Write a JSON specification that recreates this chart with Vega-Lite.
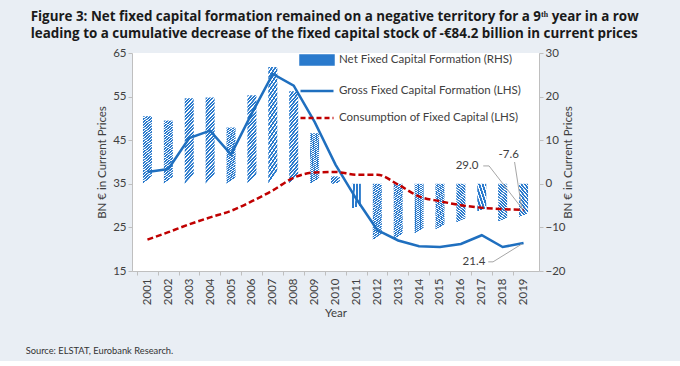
{
  "$schema": "https://vega.github.io/schema/vega-lite/v6.json",
  "background": "#e9eef4",
  "padding": {"left": 25, "top": 9, "right": 44, "bottom": 4},
  "title": {
    "text": ["Figure 3: Net fixed capital formation remained on a negative territory for a 9ᵗʰ year in a row", "leading to a cumulative decrease of the fixed capital stock of -€84.2 billion in current prices"],
    "anchor": "start", "font": "Open Sans", "fontSize": 13.4, "fontWeight": "bold", "color": "#1a1a1a", "lineHeight": 17, "dx": 5, "offset": 7
  },
  "data": {"values": [
    {"year": 2001, "gross": 37.7, "cons": 22.2, "net": 15.5},
    {"year": 2002, "gross": 38.4, "cons": 23.9, "net": 14.5},
    {"year": 2003, "gross": 45.5, "cons": 25.7, "net": 19.6},
    {"year": 2004, "gross": 47.2, "cons": 27.3, "net": 19.8},
    {"year": 2005, "gross": 41.7, "cons": 28.8, "net": 12.9},
    {"year": 2006, "gross": 51.2, "cons": 31.0, "net": 20.3},
    {"year": 2007, "gross": 60.2, "cons": 33.5, "net": 26.8},
    {"year": 2008, "gross": 57.5, "cons": 36.4, "net": 21.2},
    {"year": 2009, "gross": 49.2, "cons": 37.6, "net": 11.6},
    {"year": 2010, "gross": 39.4, "cons": 37.7, "net": 1.7},
    {"year": 2011, "gross": 31.5, "cons": 37.1, "net": -5.6},
    {"year": 2012, "gross": 24.4, "cons": 37.1, "net": -12.9},
    {"year": 2013, "gross": 22.0, "cons": 34.8, "net": -12.8},
    {"year": 2014, "gross": 20.7, "cons": 32.1, "net": -11.4},
    {"year": 2015, "gross": 20.5, "cons": 31.0, "net": -10.5},
    {"year": 2016, "gross": 21.2, "cons": 30.1, "net": -8.9},
    {"year": 2017, "gross": 23.2, "cons": 29.5, "net": -6.3},
    {"year": 2018, "gross": 20.5, "cons": 29.2, "net": -8.7},
    {"year": 2019, "gross": 21.4, "cons": 29.0, "net": -7.6}
  ]},
  "vconcat": [{
    "width": 407,
    "height": 218,
    "title": {"text": "Source: ELSTAT, Eurobank Research.", "orient": "bottom", "anchor": "start", "font": "Lato", "fontSize": 9.3, "fontWeight": "normal", "color": "#333333", "dx": -71, "offset": 28},
    "resolve": {"scale": {"y": "independent"}},
    "layer": [
      {"layer": [
        {"mark": {"type": "bar", "size": 9, "fill": {"gradient": "linear", "x1": 0, "y1": 0, "x2": 0.11, "y2": 1, "stops": [
          {"offset": 0, "color": "#2a7acc"}, {"offset": 0.022, "color": "#2a7acc"}, {"offset": 0.025, "color": "#ffffff"}, {"offset": 0.038, "color": "#ffffff"},
          {"offset": 0.04, "color": "#2a7acc"}, {"offset": 0.062, "color": "#2a7acc"}, {"offset": 0.065, "color": "#ffffff"}, {"offset": 0.078, "color": "#ffffff"},
          {"offset": 0.08, "color": "#2a7acc"}, {"offset": 0.102, "color": "#2a7acc"}, {"offset": 0.105, "color": "#ffffff"}, {"offset": 0.118, "color": "#ffffff"},
          {"offset": 0.12, "color": "#2a7acc"}, {"offset": 0.142, "color": "#2a7acc"}, {"offset": 0.145, "color": "#ffffff"}, {"offset": 0.158, "color": "#ffffff"},
          {"offset": 0.16, "color": "#2a7acc"}, {"offset": 0.182, "color": "#2a7acc"}, {"offset": 0.185, "color": "#ffffff"}, {"offset": 0.198, "color": "#ffffff"},
          {"offset": 0.2, "color": "#2a7acc"}, {"offset": 0.222, "color": "#2a7acc"}, {"offset": 0.225, "color": "#ffffff"}, {"offset": 0.238, "color": "#ffffff"},
          {"offset": 0.24, "color": "#2a7acc"}, {"offset": 0.262, "color": "#2a7acc"}, {"offset": 0.265, "color": "#ffffff"}, {"offset": 0.278, "color": "#ffffff"},
          {"offset": 0.28, "color": "#2a7acc"}, {"offset": 0.302, "color": "#2a7acc"}, {"offset": 0.305, "color": "#ffffff"}, {"offset": 0.318, "color": "#ffffff"},
          {"offset": 0.32, "color": "#2a7acc"}, {"offset": 0.342, "color": "#2a7acc"}, {"offset": 0.345, "color": "#ffffff"}, {"offset": 0.358, "color": "#ffffff"},
          {"offset": 0.36, "color": "#2a7acc"}, {"offset": 0.382, "color": "#2a7acc"}, {"offset": 0.385, "color": "#ffffff"}, {"offset": 0.398, "color": "#ffffff"},
          {"offset": 0.4, "color": "#2a7acc"}, {"offset": 0.422, "color": "#2a7acc"}, {"offset": 0.425, "color": "#ffffff"}, {"offset": 0.438, "color": "#ffffff"},
          {"offset": 0.44, "color": "#2a7acc"}, {"offset": 0.462, "color": "#2a7acc"}, {"offset": 0.465, "color": "#ffffff"}, {"offset": 0.478, "color": "#ffffff"},
          {"offset": 0.48, "color": "#2a7acc"}, {"offset": 0.502, "color": "#2a7acc"}, {"offset": 0.505, "color": "#ffffff"}, {"offset": 0.518, "color": "#ffffff"},
          {"offset": 0.52, "color": "#2a7acc"}, {"offset": 0.542, "color": "#2a7acc"}, {"offset": 0.545, "color": "#ffffff"}, {"offset": 0.558, "color": "#ffffff"},
          {"offset": 0.56, "color": "#2a7acc"}, {"offset": 0.582, "color": "#2a7acc"}, {"offset": 0.585, "color": "#ffffff"}, {"offset": 0.598, "color": "#ffffff"},
          {"offset": 0.6, "color": "#2a7acc"}, {"offset": 0.622, "color": "#2a7acc"}, {"offset": 0.625, "color": "#ffffff"}, {"offset": 0.638, "color": "#ffffff"},
          {"offset": 0.64, "color": "#2a7acc"}, {"offset": 0.662, "color": "#2a7acc"}, {"offset": 0.665, "color": "#ffffff"}, {"offset": 0.678, "color": "#ffffff"},
          {"offset": 0.68, "color": "#2a7acc"}, {"offset": 0.702, "color": "#2a7acc"}, {"offset": 0.705, "color": "#ffffff"}, {"offset": 0.718, "color": "#ffffff"},
          {"offset": 0.72, "color": "#2a7acc"}, {"offset": 0.742, "color": "#2a7acc"}, {"offset": 0.745, "color": "#ffffff"}, {"offset": 0.758, "color": "#ffffff"},
          {"offset": 0.76, "color": "#2a7acc"}, {"offset": 0.782, "color": "#2a7acc"}, {"offset": 0.785, "color": "#ffffff"}, {"offset": 0.798, "color": "#ffffff"},
          {"offset": 0.8, "color": "#2a7acc"}, {"offset": 0.822, "color": "#2a7acc"}, {"offset": 0.825, "color": "#ffffff"}, {"offset": 0.838, "color": "#ffffff"},
          {"offset": 0.84, "color": "#2a7acc"}, {"offset": 0.862, "color": "#2a7acc"}, {"offset": 0.865, "color": "#ffffff"}, {"offset": 0.878, "color": "#ffffff"},
          {"offset": 0.88, "color": "#2a7acc"}, {"offset": 0.902, "color": "#2a7acc"}, {"offset": 0.905, "color": "#ffffff"}, {"offset": 0.918, "color": "#ffffff"},
          {"offset": 0.92, "color": "#2a7acc"}, {"offset": 0.942, "color": "#2a7acc"}, {"offset": 0.945, "color": "#ffffff"}, {"offset": 0.958, "color": "#ffffff"},
          {"offset": 0.96, "color": "#2a7acc"}, {"offset": 0.982, "color": "#2a7acc"}, {"offset": 0.985, "color": "#ffffff"}, {"offset": 1, "color": "#ffffff"}
        ]}},
         "encoding": {
           "x": {"field": "year", "type": "quantitative", "title": "Year", "scale": {"domain": [2000.5, 2019.5], "nice": false, "zero": false},
                 "axis": {"values": [2001, 2002, 2003, 2004, 2005, 2006, 2007, 2008, 2009, 2010, 2011, 2012, 2013, 2014, 2015, 2016, 2017, 2018, 2019], "tickCount": 40, "format": "d", "labelAngle": 270, "labelAlign": "right", "labelBaseline": "middle", "labelOverlap": false, "labelFlush": false, "tickOffset": -10.71, "labelOffset": 10.71, "titlePadding": 3, "labelPadding": 3}},
           "y": {"field": "net", "type": "quantitative", "scale": {"domain": [-20, 30], "nice": false, "zero": false},
                 "axis": {"orient": "right", "values": [-20, -10, 0, 10, 20, 30], "title": "BN € in Current Prices", "titleAngle": 270, "titlePadding": 8}},
           "y2": {"datum": 0},
           "color": {"datum": "Net Fixed Capital Formation (RHS)", "type": "nominal"}
         }},
        {"data": {"values": [{}]},
         "mark": {"type": "text", "align": "center", "baseline": "middle", "font": "Lato", "fontSize": 11.5, "fontWeight": "normal", "color": "#404040"},
         "encoding": {"x": {"datum": 2018.29, "type": "quantitative"}, "y": {"datum": 6.6, "type": "quantitative"}, "text": {"value": "-7.6"}}},
        {"data": {"values": [{}]},
         "mark": {"type": "rule", "color": "#a6a6a6", "strokeWidth": 1},
         "encoding": {"x": {"datum": 2018.57, "type": "quantitative"}, "x2": {"datum": 2018.92}, "y": {"datum": 5.0, "type": "quantitative"}, "y2": {"datum": -5.8}}}
      ]},
      {"layer": [
        {"mark": {"type": "line", "interpolate": "linear", "strokeWidth": 2.5},
         "encoding": {
           "x": {"field": "year", "type": "quantitative", "title": "Year", "scale": {"domain": [2000.5, 2019.5], "nice": false, "zero": false},
                 "axis": {"values": [2001, 2002, 2003, 2004, 2005, 2006, 2007, 2008, 2009, 2010, 2011, 2012, 2013, 2014, 2015, 2016, 2017, 2018, 2019], "tickCount": 40, "format": "d", "labelAngle": 270, "labelAlign": "right", "labelBaseline": "middle", "labelOverlap": false, "labelFlush": false, "tickOffset": -10.71, "labelOffset": 10.71, "titlePadding": 3, "labelPadding": 3}},
           "y": {"field": "gross", "type": "quantitative", "scale": {"domain": [15, 65], "nice": false, "zero": false},
                 "axis": {"orient": "left", "values": [15, 25, 35, 45, 55, 65], "title": "BN € in Current Prices", "titlePadding": 5}},
           "color": {"datum": "Gross Fixed Capital Formation (LHS)", "type": "nominal",
             "scale": {"domain": ["Net Fixed Capital Formation (RHS)", "Gross Fixed Capital Formation (LHS)", "Consumption of Fixed Capital (LHS)"], "range": ["#2a7acc", "#1f6fbf", "#c00000"]},
             "legend": {"orient": "none", "legendX": 178, "legendY": 0, "title": null, "symbolSize": 121, "labelOffset": 15, "rowPadding": 14, "labelFontSize": 11.5, "labelFont": "Lato", "labelColor": "#404040", "labelLimit": 300, "padding": 0,
               "encode": {"symbols": {"update": {
                 "shape": [{"test": "datum.value === 'Net Fixed Capital Formation (RHS)'", "value": "M-3,-0.818H3V0.818H-3Z"}, {"value": "M-3,0H3"}],
                 "fill": [{"test": "datum.value === 'Net Fixed Capital Formation (RHS)'", "value": {"gradient": "linear", "x1": 0, "y1": 0, "x2": 1, "y2": 0.27, "stops": [
                   {"offset": 0, "color": "#2a7acc"}, {"offset": 0.05, "color": "#2a7acc"}, {"offset": 0.06, "color": "#ffffff"}, {"offset": 0.095, "color": "#ffffff"},
                   {"offset": 0.1, "color": "#2a7acc"}, {"offset": 0.15, "color": "#2a7acc"}, {"offset": 0.16, "color": "#ffffff"}, {"offset": 0.195, "color": "#ffffff"},
                   {"offset": 0.2, "color": "#2a7acc"}, {"offset": 0.25, "color": "#2a7acc"}, {"offset": 0.26, "color": "#ffffff"}, {"offset": 0.295, "color": "#ffffff"},
                   {"offset": 0.3, "color": "#2a7acc"}, {"offset": 0.35, "color": "#2a7acc"}, {"offset": 0.36, "color": "#ffffff"}, {"offset": 0.395, "color": "#ffffff"},
                   {"offset": 0.4, "color": "#2a7acc"}, {"offset": 0.45, "color": "#2a7acc"}, {"offset": 0.46, "color": "#ffffff"}, {"offset": 0.495, "color": "#ffffff"},
                   {"offset": 0.5, "color": "#2a7acc"}, {"offset": 0.55, "color": "#2a7acc"}, {"offset": 0.56, "color": "#ffffff"}, {"offset": 0.595, "color": "#ffffff"},
                   {"offset": 0.6, "color": "#2a7acc"}, {"offset": 0.65, "color": "#2a7acc"}, {"offset": 0.66, "color": "#ffffff"}, {"offset": 0.695, "color": "#ffffff"},
                   {"offset": 0.7, "color": "#2a7acc"}, {"offset": 0.75, "color": "#2a7acc"}, {"offset": 0.76, "color": "#ffffff"}, {"offset": 0.795, "color": "#ffffff"},
                   {"offset": 0.8, "color": "#2a7acc"}, {"offset": 0.85, "color": "#2a7acc"}, {"offset": 0.86, "color": "#ffffff"}, {"offset": 0.895, "color": "#ffffff"},
                   {"offset": 0.9, "color": "#2a7acc"}, {"offset": 0.95, "color": "#2a7acc"}, {"offset": 0.96, "color": "#ffffff"}, {"offset": 1, "color": "#ffffff"}
                 ]}}, {"value": "transparent"}],
                 "stroke": [{"test": "datum.value === 'Net Fixed Capital Formation (RHS)'", "value": "transparent"}, {"test": "datum.value === 'Gross Fixed Capital Formation (LHS)'", "value": "#1f6fbf"}, {"value": "#c00000"}],
                 "strokeWidth": {"value": 2.5},
                 "strokeDash": [{"test": "datum.value === 'Consumption of Fixed Capital (LHS)'", "value": [5, 3]}, {"value": []}],
                 "opacity": {"value": 1}
               }}}
             }}
         }},
        {"mark": {"type": "line", "interpolate": "monotone", "strokeWidth": 2.5, "strokeDash": [6, 3]},
         "encoding": {
           "x": {"field": "year", "type": "quantitative", "title": "Year",
                 "axis": {"values": [2001, 2002, 2003, 2004, 2005, 2006, 2007, 2008, 2009, 2010, 2011, 2012, 2013, 2014, 2015, 2016, 2017, 2018, 2019], "tickCount": 40, "format": "d", "labelAngle": 270, "labelAlign": "right", "labelBaseline": "middle", "labelOverlap": false, "labelFlush": false, "tickOffset": -10.71, "labelOffset": 10.71, "titlePadding": 3, "labelPadding": 3}},
           "y": {"field": "cons", "type": "quantitative", "scale": {"domain": [15, 65], "nice": false, "zero": false}},
           "color": {"datum": "Consumption of Fixed Capital (LHS)", "type": "nominal"}
         }},
        {"data": {"values": [{}]},
         "mark": {"type": "text", "align": "right", "baseline": "middle", "font": "Lato", "fontSize": 11.5, "fontWeight": "normal", "color": "#404040"},
         "encoding": {"x": {"datum": 2016.84, "type": "quantitative"}, "y": {"datum": 39.1, "type": "quantitative"}, "text": {"value": "29.0"}}},
        {"data": {"values": [{}]},
         "mark": {"type": "rule", "color": "#a6a6a6", "strokeWidth": 1},
         "encoding": {"x": {"datum": 2017.07, "type": "quantitative"}, "x2": {"datum": 2017.35}, "y": {"datum": 39.1, "type": "quantitative"}, "y2": {"datum": 39.1}}},
        {"data": {"values": [{}]},
         "mark": {"type": "rule", "color": "#a6a6a6", "strokeWidth": 1},
         "encoding": {"x": {"datum": 2017.35, "type": "quantitative"}, "x2": {"datum": 2018.95}, "y": {"datum": 39.1, "type": "quantitative"}, "y2": {"datum": 29.2}}},
        {"data": {"values": [{}]},
         "mark": {"type": "text", "align": "right", "baseline": "middle", "font": "Lato", "fontSize": 11.5, "fontWeight": "normal", "color": "#404040"},
         "encoding": {"x": {"datum": 2017.17, "type": "quantitative"}, "y": {"datum": 17.1, "type": "quantitative"}, "text": {"value": "21.4"}}},
        {"data": {"values": [{}]},
         "mark": {"type": "rule", "color": "#a6a6a6", "strokeWidth": 1},
         "encoding": {"x": {"datum": 2017.31, "type": "quantitative"}, "x2": {"datum": 2017.54}, "y": {"datum": 17.1, "type": "quantitative"}, "y2": {"datum": 17.1}}},
        {"data": {"values": [{}]},
         "mark": {"type": "rule", "color": "#a6a6a6", "strokeWidth": 1},
         "encoding": {"x": {"datum": 2017.54, "type": "quantitative"}, "x2": {"datum": 2018.92}, "y": {"datum": 17.1, "type": "quantitative"}, "y2": {"datum": 21.2}}}
      ]}
    ]
  }],
  "config": {
    "font": "Lato",
    "view": {"stroke": null, "fill": "#ffffff"},
    "axis": {"labelFont": "Lato", "labelFontSize": 11.5, "labelColor": "#404040", "titleFont": "Lato", "titleFontSize": 11.5, "titleFontWeight": "normal", "titleColor": "#404040", "domainColor": "#bfbfbf", "tickColor": "#bfbfbf", "grid": false, "tickSize": 4},
    "axisX": {"labelOverlap": false}
  }
}
